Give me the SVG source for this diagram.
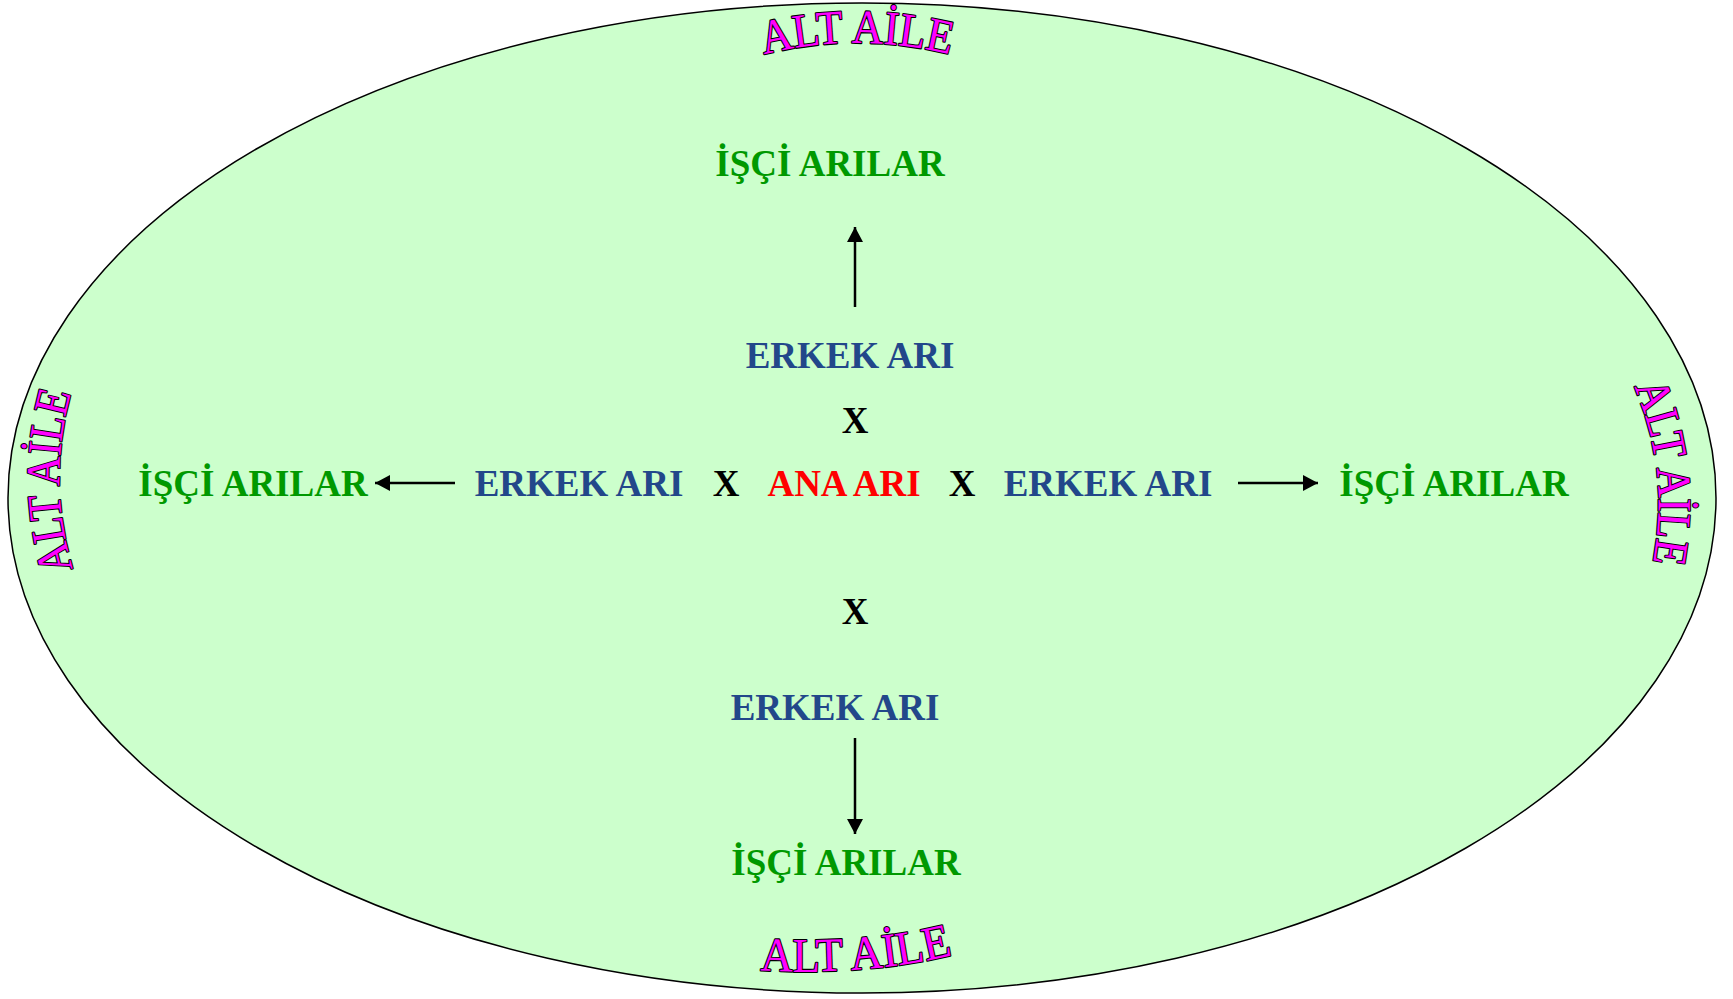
<svg xmlns="http://www.w3.org/2000/svg" width="1733" height="999" viewBox="0 0 1733 999">
<style>
.t{font-family:"Liberation Serif","Times New Roman",serif;font-weight:bold;font-size:37px;text-anchor:middle}
.g{fill:#009900}
.b{fill:#22478A}
.r{fill:#FF0000}
.k{fill:#000000}
.wa{font-family:"Liberation Serif","Times New Roman",serif;font-size:48px;fill:#FF00FF;stroke:#000;stroke-width:2.2;paint-order:stroke;stroke-linejoin:round;text-anchor:middle}
.c{stroke:#000;stroke-width:2.5;fill:none;marker-end:url(#ah)}
</style>
<defs>
<marker id="ah" viewBox="0 0 10 10" refX="10" refY="5" markerUnits="userSpaceOnUse" markerWidth="15" markerHeight="16" orient="auto" preserveAspectRatio="none">
<path d="M0,0 L10,5 L0,10 z" fill="#000"/>
</marker>
<path id="pTop" d="M 758,56 Q 856,30 956,56"/>
<path id="pBot" d="M 752,970 Q 870,977 960,953"/>
<path id="pLeft" d="M 76,578 Q 44,480 74,384"/>
<path id="pRight" d="M 1630,378 Q 1673,470 1651,572"/>
</defs>
<g id="background">
<ellipse cx="862" cy="498" rx="854" ry="495" fill="#CCFFCC" stroke="#000" stroke-width="1.5"/>
</g>
<g id="alt-aile-top"><text class="wa"><textPath href="#pTop" startOffset="50%" textLength="188" lengthAdjust="spacingAndGlyphs">ALT AİLE</textPath></text></g>
<g id="alt-aile-bottom"><text class="wa"><textPath href="#pBot" startOffset="50%" textLength="194" lengthAdjust="spacingAndGlyphs">ALT AİLE</textPath></text></g>
<g id="alt-aile-left"><text class="wa"><textPath href="#pLeft" startOffset="50%" textLength="178" lengthAdjust="spacingAndGlyphs">ALT AİLE</textPath></text></g>
<g id="alt-aile-right"><text class="wa"><textPath href="#pRight" startOffset="50%" textLength="180" lengthAdjust="spacingAndGlyphs">ALT AİLE</textPath></text></g>
<g id="isci-top"><text class="t g" x="830" y="176">İŞÇİ ARILAR</text></g>
<g id="erkek-top"><text class="t b" x="850" y="368">ERKEK ARI</text></g>
<g id="x-top"><text class="t k" x="855" y="433">X</text></g>
<g id="isci-left"><text class="t g" x="253" y="496">İŞÇİ ARILAR</text></g>
<g id="erkek-left"><text class="t b" x="579" y="496">ERKEK ARI</text></g>
<g id="x-left"><text class="t k" x="726" y="496">X</text></g>
<g id="ana-ari"><text class="t r" x="844" y="496">ANA ARI</text></g>
<g id="x-right"><text class="t k" x="962" y="496">X</text></g>
<g id="erkek-right"><text class="t b" x="1108" y="496">ERKEK ARI</text></g>
<g id="isci-right"><text class="t g" x="1454" y="496">İŞÇİ ARILAR</text></g>
<g id="x-bottom"><text class="t k" x="855" y="624">X</text></g>
<g id="erkek-bottom"><text class="t b" x="835" y="720">ERKEK ARI</text></g>
<g id="isci-bottom"><text class="t g" x="846" y="875">İŞÇİ ARILAR</text></g>
<g id="connectors">
<line class="c" x1="855" y1="307" x2="855" y2="227"/>
<line class="c" x1="455" y1="483" x2="375" y2="483"/>
<line class="c" x1="1238" y1="483" x2="1318" y2="483"/>
<line class="c" x1="855" y1="738" x2="855" y2="834"/>
</g>
</svg>
